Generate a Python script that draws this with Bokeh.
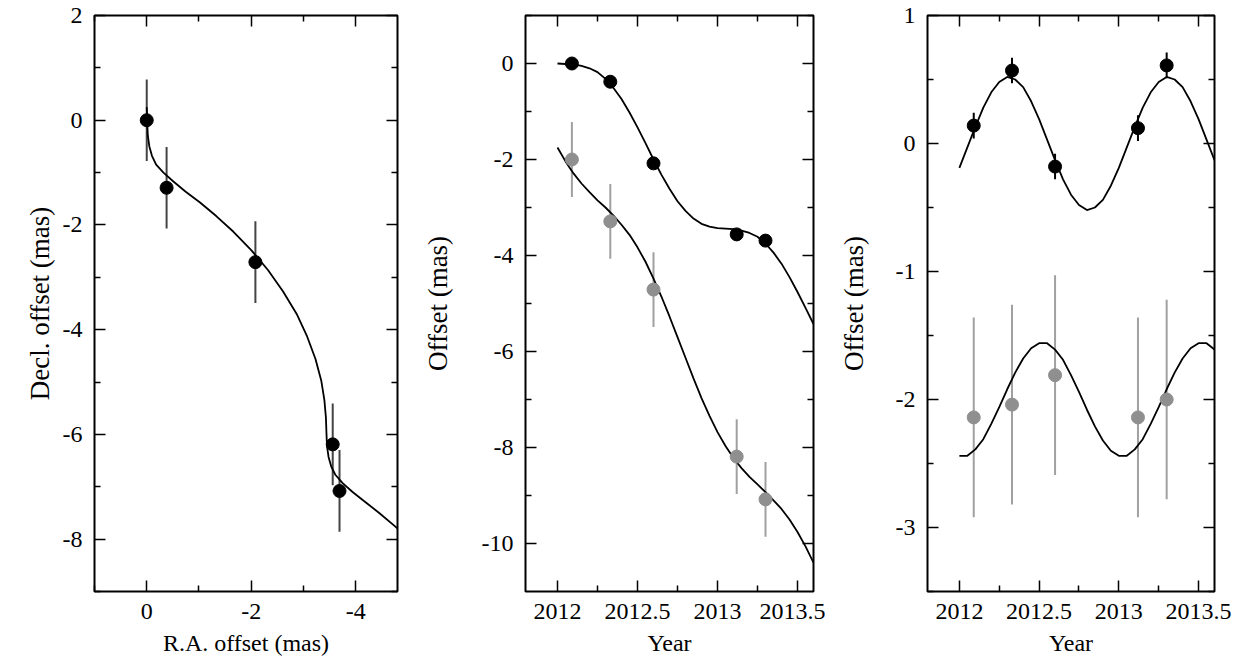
from bokeh.plotting import figure
from bokeh.layouts import row
from bokeh.models import Range1d, LinearAxis, FixedTicker
from bokeh.embed import file_html
from bokeh.resources import INLINE

# ---------------- data ----------------
obs_years = [2012.09, 2012.33, 2012.60, 2013.12, 2013.30]
ra_obs = [0.0, -0.38, -2.08, -3.56, -3.69]          # R.A. offset (mas)
dec_obs = [0.0, -1.29, -2.71, -6.19, -7.08]         # Decl. offset (mas)
ra_err = [0.10, 0.10, 0.10, 0.10, 0.10]
dec_err = [0.78, 0.78, 0.78, 0.78, 0.78]
ra_par_obs = [0.14, 0.57, -0.18, 0.12, 0.61]        # parallax part, R.A.
dec_par_obs = [-0.14, -0.04, 0.19, -0.14, 0.00]     # parallax part, Decl.

model_years = [2012.00, 2012.05, 2012.10, 2012.15, 2012.20, 2012.25, 2012.30, 2012.35,
               2012.40, 2012.45, 2012.50, 2012.55, 2012.60, 2012.65, 2012.70, 2012.75,
               2012.80, 2012.85, 2012.90, 2012.95, 2013.00, 2013.05, 2013.10, 2013.15,
               2013.20, 2013.25, 2013.30, 2013.35, 2013.40, 2013.45, 2013.50, 2013.55,
               2013.60]
ra_model = [0.00, -0.01, -0.02, -0.05, -0.10, -0.18, -0.32, -0.51,
            -0.74, -1.02, -1.33, -1.66, -2.00, -2.32, -2.61, -2.87,
            -3.07, -3.23, -3.34, -3.40, -3.43, -3.44, -3.45, -3.48,
            -3.53, -3.61, -3.75, -3.94, -4.17, -4.45, -4.76, -5.09,
            -5.43]
dec_model = [0.25, -0.04, -0.29, -0.50, -0.68, -0.85, -1.00, -1.17,
             -1.36, -1.57, -1.83, -2.13, -2.48, -2.86, -3.27, -3.70,
             -4.13, -4.56, -4.97, -5.34, -5.68, -5.97, -6.22, -6.43,
             -6.61, -6.77, -6.93, -7.10, -7.28, -7.50, -7.76, -8.06,
             -8.40]
ra_par_model = [-0.19, -0.03, 0.13, 0.28, 0.40, 0.48, 0.52, 0.50,
                0.44, 0.33, 0.19, 0.03, -0.13, -0.28, -0.40, -0.48,
                -0.52, -0.50, -0.44, -0.33, -0.19, -0.03, 0.13, 0.28,
                0.40, 0.48, 0.52, 0.50, 0.44, 0.33, 0.19, 0.03,
                -0.13]
dec_par_model = [-0.44, -0.44, -0.39, -0.31, -0.19, -0.06, 0.08, 0.21,
                 0.32, 0.40, 0.44, 0.44, 0.39, 0.31, 0.19, 0.06,
                 -0.08, -0.21, -0.32, -0.40, -0.44, -0.44, -0.39, -0.31,
                 -0.19, -0.06, 0.08, 0.21, 0.32, 0.40, 0.44, 0.44,
                 0.39]
dec_shift = -2.0   # Decl. series drawn shifted by -2 mas in panels 2 and 3

# ---------------- styling ----------------
FONT = "Liberation Serif"
GREY = "#8f8f8f"
GREY_BAR = "#a0a0a0"


def shifted(vals):
    return [v + dec_shift for v in vals]


def lo(vals, errs):
    return [v - e for v, e in zip(vals, errs)]


def hi(vals, errs):
    return [v + e for v, e in zip(vals, errs)]


def style_axis(ax, ticks, minor, labels):
    ax.ticker = FixedTicker(ticks=ticks, minor_ticks=minor)
    ax.axis_line_color = None
    ax.major_tick_in = 11
    ax.major_tick_out = 0
    ax.minor_tick_in = 6
    ax.minor_tick_out = 0
    ax.major_tick_line_color = "black"
    ax.major_tick_line_width = 1.5
    ax.minor_tick_line_color = "black"
    ax.minor_tick_line_width = 1.5
    ax.major_label_overrides = labels
    ax.major_label_text_font = FONT
    ax.major_label_text_font_size = "24px"
    ax.major_label_text_color = "black"
    ax.major_label_standoff = 12
    ax.axis_label_text_font = FONT
    ax.axis_label_text_font_style = "normal"
    ax.axis_label_text_color = "black"


def mirror_axis(positions, length):
    # label-free axis: only "minor" ticks, so no tick labels exist at all
    ax = LinearAxis(ticker=FixedTicker(ticks=[], minor_ticks=positions))
    ax.axis_line_color = None
    ax.major_tick_in = 0
    ax.major_tick_out = 0
    ax.minor_tick_in = length
    ax.minor_tick_out = 0
    ax.minor_tick_line_color = "black"
    ax.minor_tick_line_width = 1.5
    ax.major_label_standoff = 0
    return ax


def make_fig(width, left, right, xr, yr, xt, xmin, xlab, xname, yt, ymin, ylab, yname, ystand):
    p = figure(width=width, height=666, x_range=xr, y_range=yr,
               output_backend="svg", toolbar_location=None,
               min_border_left=left, min_border_right=right,
               min_border_top=15, min_border_bottom=75)
    p.grid.visible = False
    p.outline_line_color = "black"
    p.outline_line_width = 2
    p.background_fill_color = "white"
    p.border_fill_color = "white"
    style_axis(p.xaxis[0], xt, xmin, xlab)
    style_axis(p.yaxis[0], yt, ymin, ylab)
    p.xaxis[0].axis_label = xname
    p.xaxis[0].axis_label_standoff = 8
    p.xaxis[0].axis_label_text_font_size = "24px"
    p.yaxis[0].axis_label = yname
    p.yaxis[0].axis_label_standoff = ystand
    p.yaxis[0].axis_label_text_font_size = "27px"
    p.add_layout(mirror_axis(xt, 11), "above")
    p.add_layout(mirror_axis(xmin, 6), "above")
    p.add_layout(mirror_axis(yt, 11), "right")
    p.add_layout(mirror_axis(ymin, 6), "right")
    return p


# ---------------- panel 1: sky track ----------------
p1 = make_fig(410, 94, 13, Range1d(1.0, -4.8), Range1d(-9.0, 2.0),
              [0, -2, -4], [1, -1, -3], {0: "0", -2: "-2", -4: "-4"}, "R.A. offset (mas)",
              [2, 0, -2, -4, -6, -8], [1, -1, -3, -5, -7, -9],
              {2: "2", 0: "0", -2: "-2", -4: "-4", -6: "-6", -8: "-8"},
              "Decl. offset (mas)", 5)
p1.segment(x0=ra_obs, y0=lo(dec_obs, dec_err), x1=ra_obs, y1=hi(dec_obs, dec_err),
           line_color="#444444", line_width=2)
p1.line(ra_model, dec_model, line_color="black", line_width=1.8)
p1.scatter(ra_obs, dec_obs, size=13, fill_color="black", line_color="black")

# ---------------- panel 2: offsets vs time ----------------
yr_ticks = [2012, 2012.5, 2013, 2013.5]
yr_minor = [2012.25, 2012.75, 2013.25]
yr_labels = {2012: "2012", 2012.5: "2012.5", 2013: "2013", 2013.5: "2013.5"}

p2 = make_fig(415, 115, 12, Range1d(2011.8, 2013.6), Range1d(-11.0, 1.0),
              yr_ticks, yr_minor, yr_labels, "Year",
              [0, -2, -4, -6, -8, -10], [1, -1, -3, -5, -7, -9],
              {0: "0", -2: "-2", -4: "-4", -6: "-6", -8: "-8", -10: "-10"},
              "Offset (mas)", 26)
p2.segment(x0=obs_years, y0=lo(shifted(dec_obs), dec_err), x1=obs_years,
           y1=hi(shifted(dec_obs), dec_err), line_color=GREY_BAR, line_width=2)
p2.segment(x0=obs_years, y0=lo(ra_obs, ra_err), x1=obs_years, y1=hi(ra_obs, ra_err),
           line_color="black", line_width=2)
p2.line(model_years, ra_model, line_color="black", line_width=1.8)
p2.line(model_years, shifted(dec_model), line_color="black", line_width=1.8)
p2.scatter(obs_years, shifted(dec_obs), size=13, fill_color=GREY, line_color=GREY)
p2.scatter(obs_years, ra_obs, size=13, fill_color="black", line_color="black")

# ---------------- panel 3: parallax only ----------------
p3 = make_fig(414, 102, 25, Range1d(2011.8, 2013.6), Range1d(-3.5, 1.0),
              yr_ticks, yr_minor, yr_labels, "Year",
              [1, 0, -1, -2, -3], [0.5, -0.5, -1.5, -2.5, -3.5],
              {1: "1", 0: "0", -1: "-1", -2: "-2", -3: "-3"},
              "Offset (mas)", 24)
p3.segment(x0=obs_years, y0=lo(shifted(dec_par_obs), dec_err), x1=obs_years,
           y1=hi(shifted(dec_par_obs), dec_err), line_color=GREY_BAR, line_width=2)
p3.segment(x0=obs_years, y0=lo(ra_par_obs, ra_err), x1=obs_years,
           y1=hi(ra_par_obs, ra_err), line_color="black", line_width=2)
p3.line(model_years, ra_par_model, line_color="black", line_width=1.8)
p3.line(model_years, shifted(dec_par_model), line_color="black", line_width=1.8)
p3.scatter(obs_years, shifted(dec_par_obs), size=13, fill_color=GREY, line_color=GREY)
p3.scatter(obs_years, ra_par_obs, size=13, fill_color="black", line_color="black")

layout = row(p1, p2, p3)
open("out.html", "w").write(file_html(layout, INLINE))
